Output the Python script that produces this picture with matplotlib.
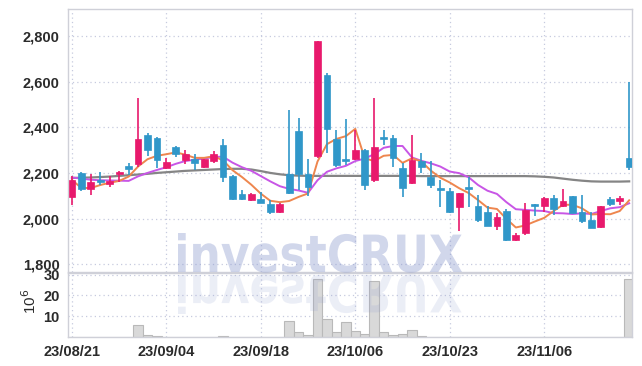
import matplotlib
matplotlib.use('Agg')
import matplotlib.pyplot as plt
import numpy as np
from matplotlib.textpath import TextPath
from matplotlib.font_manager import FontProperties
from matplotlib.patches import PathPatch
from matplotlib.transforms import Affine2D
from matplotlib.ticker import FuncFormatter, FixedLocator

# ---------------- data ----------------
tick_pos = [0, 10, 20, 30, 40, 50]
tick_labels = ['23/08/21', '23/09/04', '23/09/18', '23/10/06', '23/10/23', '23/11/06']

opens = [2095, 2199, 2130, 2169, 2152, 2196, 2232, 2238, 2367, 2355,
         2221, 2314, 2257, 2261, 2228, 2254, 2323, 2188, 2108, 2082,
         2086, 2064, 2030, 2196, 2384, 2196, 2276, 2630, 2349, 2258,
         2261, 2301, 2169, 2356, 2352, 2220, 2155, 2254, 2184, 2133,
         2122, 2050, 2140, 2055, 2029, 1968, 2035, 1906, 1935, 2064,
         2057, 2089, 2055, 2099, 2030, 1994, 1964, 2085, 2079, 2264]
highs = [2187, 2205, 2196, 2203, 2188, 2209, 2244, 2528, 2377, 2357,
         2265, 2320, 2300, 2282, 2262, 2298, 2348, 2190, 2125, 2114,
         2118, 2080, 2070, 2476, 2440, 2260, 2779, 2637, 2389, 2435,
         2390, 2305, 2528, 2389, 2364, 2242, 2367, 2286, 2254, 2169,
         2133, 2114, 2184, 2104, 2055, 2026, 2040, 1935, 2067, 2066,
         2093, 2104, 2130, 2100, 2104, 2030, 2057, 2096, 2099, 2600]
lows = [2060, 2121, 2104, 2145, 2140, 2162, 2192, 2228, 2272, 2221,
        2215, 2270, 2239, 2213, 2222, 2242, 2162, 2082, 2082, 2078,
        2068, 2019, 2023, 2106, 2126, 2100, 2264, 2286, 2228, 2235,
        2258, 2125, 2162, 2323, 2225, 2096, 2153, 2201, 2136, 2050,
        2026, 1946, 2050, 1987, 1966, 1950, 1903, 1903, 1930, 2013,
        2028, 2016, 2050, 2024, 1982, 1958, 1960, 2055, 2059, 2213]
closes = [2169, 2130, 2159, 2160, 2166, 2204, 2219, 2348, 2301, 2257,
          2247, 2285, 2283, 2243, 2260, 2283, 2184, 2086, 2086, 2107,
          2070, 2028, 2064, 2114, 2196, 2137, 2776, 2392, 2235, 2254,
          2301, 2147, 2315, 2348, 2267, 2133, 2257, 2228, 2147, 2125,
          2030, 2114, 2131, 1994, 1968, 2006, 1906, 1928, 2038, 2057,
          2089, 2042, 2079, 2026, 1989, 1960, 2055, 2064, 2089, 2228]

# volume in millions of shares
volume = [0.05, 0.05, 0.05, 0.03, 0.03, 0.05, 0.1, 5.9, 0.8, 0.3,
          0.05, 0.05, 0.05, 0.03, 0.03, 0.05, 0.3, 0.1, 0.05, 0.05,
          0.05, 0.05, 0.05, 7.6, 2.5, 1.0, 28.0, 8.6, 2.2, 7.0,
          2.9, 1.4, 27.1, 2.5, 1.0, 1.4, 3.3, 0.3, 0.2, 0.2,
          0.2, 0.2, 0.2, 0.2, 0.05, 0.05, 0.05, 0.05, 0.05, 0.05,
          0.05, 0.05, 0.05, 0.05, 0.05, 0.05, 0.05, 0.05, 0.05, 28.0]

ma_short = [2169, 2134, 2134, 2147, 2157, 2165, 2184, 2228, 2260, 2275,
            2282, 2290, 2280, 2266, 2266, 2273, 2255, 2212, 2182, 2148,
            2109, 2078, 2072, 2077, 2095, 2110, 2250, 2326, 2349, 2361,
            2393, 2264, 2252, 2275, 2279, 2244, 2264, 2250, 2210, 2179,
            2158, 2133, 2112, 2081, 2048, 2042, 1999, 1961, 1970, 1987,
            2003, 2033, 2061, 2060, 2045, 2018, 2020, 2019, 2033, 2080]
ma_mid = [2180, 2175, 2170, 2168, 2167, 2166, 2165, 2185, 2200, 2213,
          2225, 2240, 2252, 2258, 2263, 2270, 2271, 2245, 2225, 2209,
          2186, 2163, 2142, 2130, 2123, 2113, 2168, 2205, 2220, 2231,
          2252, 2263, 2282, 2310, 2318, 2318, 2268, 2253, 2242, 2228,
          2206, 2199, 2181, 2147, 2122, 2108, 2072, 2041, 2038, 2035,
          2033, 2024, 2023, 2020, 2023, 2020, 2033, 2045, 2050, 2067]
ma_long = [2178, 2179, 2180, 2182, 2184, 2187, 2190, 2193, 2196, 2200,
           2203, 2206, 2209, 2211, 2213, 2215, 2217, 2218, 2218, 2215,
           2208, 2200, 2194, 2190, 2188, 2187, 2187, 2187, 2187, 2187,
           2187, 2187, 2187, 2187, 2187, 2187, 2187, 2186, 2186, 2186,
           2186, 2186, 2186, 2186, 2186, 2186, 2186, 2186, 2186, 2185,
           2183, 2180, 2175, 2170, 2166, 2163, 2162, 2162, 2162, 2163]

# ---------------- style ----------------
UP = '#e8196c'
DOWN = '#3097c9'
GRID = '#c6cadf'
SPINE = '#cfd0d8'
TXT = '#2b2b2b'
plt.rcParams['font.family'] = ['Liberation Sans', 'DejaVu Sans']
LABEL_FP = FontProperties(family=['Liberation Sans', 'DejaVu Sans'], weight='bold', size=10.5)

W, H = 642, 366
fig = plt.figure(figsize=(W / 100, H / 100), dpi=100)
fig.patch.set_facecolor('white')

L, R = 68, 632
ax = fig.add_axes([L / W, (H - 272) / H, (R - L) / W, (272 - 9) / H])
axv = fig.add_axes([L / W, (H - 337) / H, (R - L) / W, (337 - 272.5) / H], sharex=ax)

n = len(closes)
x = np.arange(n)
o = np.array(opens, float)
c = np.array(closes, float)
hi = np.array(highs, float)
lo = np.array(lows, float)
cols = [UP if cc >= oo else DOWN for oo, cc in zip(o, c)]

# moving averages
ax.plot(x, ma_long, color='#858585', lw=1.6, zorder=2)
ax.plot(x, ma_mid, color='#c856e6', lw=1.4, zorder=2)
ax.plot(x, ma_short, color='#ee864e', lw=1.4, zorder=2)

# candles
ax.vlines(x, lo, hi, colors=cols, lw=1.2, zorder=3)
body_bottom = np.minimum(o, c)
body_h = np.maximum(np.abs(c - o), 5)
ax.bar(x, body_h, bottom=body_bottom, width=0.72, color=cols,
       edgecolor=cols, linewidth=0.5, zorder=4)

ax.set_xlim(-0.42, 59.3)
ax.set_ylim(1766, 2918)
ax.yaxis.set_major_locator(FixedLocator([1800, 2000, 2200, 2400, 2600, 2800]))
ax.yaxis.set_major_formatter(FuncFormatter(lambda v, p: f'{int(v):,}'))

# volume
axv.bar(x, volume, width=1.0, color='#d9d9d9', edgecolor='#b9b9b9', linewidth=0.8, zorder=2)
axv.set_ylim(0, 31)
axv.yaxis.set_major_locator(FixedLocator([10, 20, 30]))
axv.set_xticks(tick_pos)
axv.set_xticklabels(tick_labels)
axv.set_ylabel('10$^6$', color=TXT, fontsize=11)
axv.yaxis.set_label_coords((39 - L) / (R - L), 0.55)

for a in (ax, axv):
    a.set_facecolor('none')
    a.grid(True, color=GRID, linestyle=(0, (1, 2.5)), linewidth=0.9)
    a.set_axisbelow(True)
    for s in a.spines.values():
        s.set_color(SPINE)
        s.set_linewidth(1.0)
    a.tick_params(length=0, pad=6, colors=TXT)
    for lab in a.get_yticklabels() + a.get_xticklabels():
        lab.set_fontproperties(LABEL_FP)
plt.setp(ax.get_xticklabels(), visible=False)
axv.tick_params(axis='x', pad=6)

# watermark "investCRUX" with reflection
fp = FontProperties(family='DejaVu Sans', weight='bold')
tp = TextPath((0, 0), 'investCRUX', size=100, prop=fp)
bb = tp.get_extents()
sx = 284 / bb.width
sy = 39 / bb.y1
main_tr = Affine2D().translate(-bb.x0, 0).scale(sx, sy).translate(178, H - 272)
refl_tr = Affine2D().translate(-bb.x0, 0).scale(sx, -sy).translate(178, H - 275)
fig.add_artist(PathPatch(tp, transform=main_tr, facecolor='#8d9bcf', edgecolor='none', alpha=0.40, zorder=5))
fig.add_artist(PathPatch(tp, transform=refl_tr, facecolor='#8d9bcf', edgecolor='none', alpha=0.17, zorder=5))

fig.savefig('out.png', dpi=100, facecolor='white')
